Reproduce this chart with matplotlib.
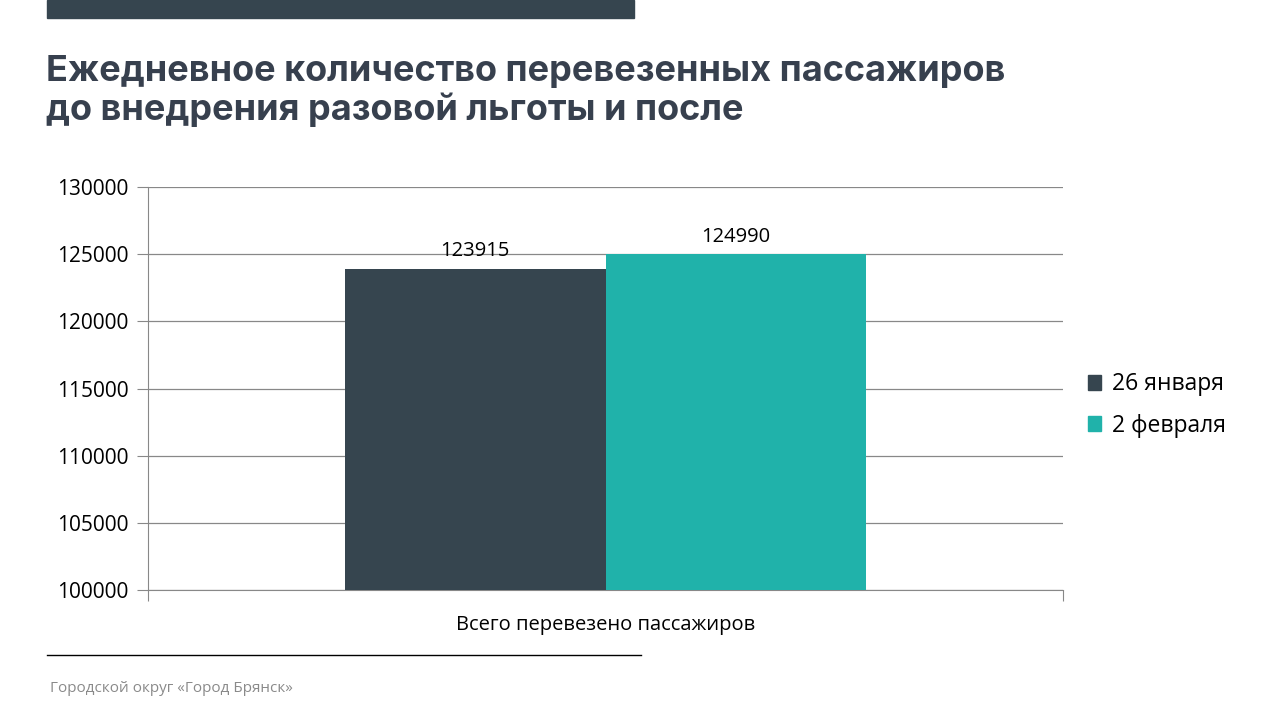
import matplotlib
matplotlib.use("Agg")
import matplotlib.pyplot as plt
from matplotlib.patches import Rectangle
from matplotlib.lines import Line2D

categories = ["Всего перевезено пассажиров"]
series_names = ["26 января", "2 февраля"]
values_jan = [123915]
values_feb = [124990]
yticks = [100000, 105000, 110000, 115000, 120000, 125000, 130000]

dark = "#36454F"
teal = "#20B2AA"

plt.rcParams['font.family'] = ['Open Sans', 'DejaVu Sans']

fig = plt.figure(figsize=(12.8, 7.2), dpi=100)
W, H = 1280, 720

def fx(x): return x / W
def fy(y): return 1 - y / H

# top bar
fig.patches.append(Rectangle((fx(47), fy(18)), fx(634) - fx(47), 18 / H,
                             transform=fig.transFigure, color="#36454F", zorder=0))
# title
fig.text(fx(46), fy(91), "Ежедневное количество перевезенных пассажиров\nдо внедрения разовой льготы и после",
         fontsize=26, fontweight='bold', color="#37404E", family=['Inter', 'DejaVu Sans'],
         va='center', ha='left', linespacing=1.13)

ax = fig.add_axes([fx(148), fy(590), (1063 - 148) / W, (590 - 187) / H])
x = list(range(len(categories)))
bw = 0.285
ax.bar([i - bw / 2 for i in x], values_jan, width=bw, color=dark, label=series_names[0], zorder=3)
ax.bar([i + bw / 2 for i in x], values_feb, width=bw, color=teal, label=series_names[1], zorder=3)
for i, v in zip(x, values_jan):
    ax.text(i - bw / 2, v + 550, f"{v}", ha='center', va='bottom', fontsize=14.5, color='black')
for i, v in zip(x, values_feb):
    ax.text(i + bw / 2, v + 550, f"{v}", ha='center', va='bottom', fontsize=14.5, color='black')

ax.set_xlim(-0.5, 0.5)
ax.set_ylim(100000, 130000)
ax.set_yticks(yticks)
ax.set_yticklabels([str(t) for t in yticks], fontsize=15)
ax.set_xticks([-0.5, 0.5])
ax.set_xticklabels(["", ""])
ax.tick_params(axis='x', length=8, color='#888888', direction='out')
ax.tick_params(axis='y', length=8, color='#888888', direction='out', pad=6)
ax.text(0, -0.062, categories[0], transform=ax.get_xaxis_transform(), ha='center', va='top', fontsize=14.5)
ax.yaxis.grid(True, color='#888888', linewidth=0.9, zorder=0)
ax.set_axisbelow(True)
for s in ['top', 'right']:
    ax.spines[s].set_visible(False)
ax.spines['left'].set_color('#888888')
ax.spines['bottom'].set_color('#888888')

handles = [Rectangle((0, 0), 1, 1, color=dark), Rectangle((0, 0), 1, 1, color=teal)]
fig.legend(handles, series_names, loc='center left', bbox_to_anchor=(fx(1067), fy(405)),
           frameon=False, fontsize=16.5, handlelength=0.6, handleheight=0.6, handletextpad=0.45,
           labelspacing=0.75)

# bottom line and footer
fig.add_artist(Line2D([fx(47), fx(641)], [fy(655), fy(655)], color='black', linewidth=1,
                      transform=fig.transFigure))
fig.text(fx(50), fy(688), "Городской округ «Город Брянск»", fontsize=11, color='#8a8a8a',
         va='center', ha='left')

fig.savefig("out.png", dpi=100)
